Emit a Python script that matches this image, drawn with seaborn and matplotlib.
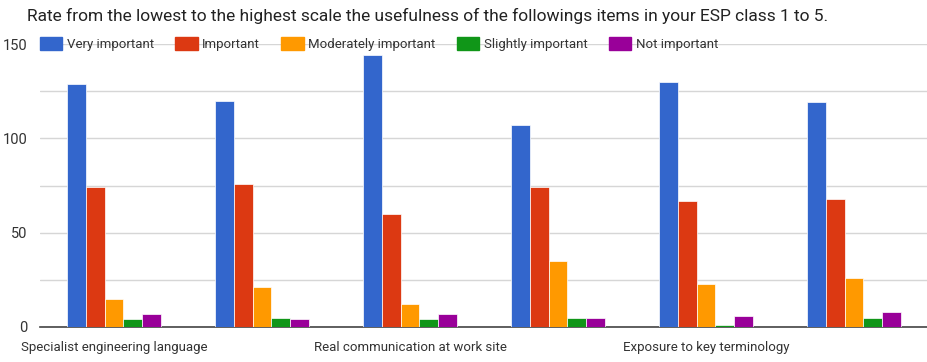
import numpy as np
import pandas as pd
import seaborn as sns
from matplotlib import pyplot as plt
from matplotlib.ticker import MultipleLocator

# data
items = ['Specialist engineering language', 'Item 2',
         'Real communication at work site', 'Item 4',
         'Exposure to key terminology', 'Item 6']
shown_labels = ['Specialist engineering language', '',
                'Real communication at work site', '',
                'Exposure to key terminology', '']
ratings = ['Very important', 'Important', 'Moderately important',
           'Slightly important', 'Not important']
very_important = [129, 120, 144, 107, 130, 119]
important = [74, 76, 60, 74, 67, 68]
moderately_important = [15, 21, 12, 35, 23, 26]
slightly_important = [4, 5, 4, 5, 1, 5]
not_important = [7, 4, 7, 5, 6, 8]
colors = ['#3366cc', '#dc3912', '#ff9900', '#109618', '#990099']
title = 'Rate from the lowest to the highest scale the usefulness of the followings items in your ESP class 1 to 5.'

series = [very_important, important, moderately_important, slightly_important, not_important]
rows = []
for rating, values in zip(ratings, series):
    for item, v in zip(items, values):
        rows.append({'item': item, 'rating': rating, 'count': v})
df = pd.DataFrame(rows)

sns.set_theme(style='white')
plt.rcParams['font.family'] = ['Roboto', 'DejaVu Sans']

fig = plt.figure(figsize=(9.28, 3.62), dpi=100)
ax = fig.add_axes([40 / 928, 1 - 327 / 362, 888 / 928, (327 - 44) / 362])

sns.barplot(data=df, x='item', y='count', hue='rating', order=items, hue_order=ratings,
            palette=colors, saturation=1, width=0.64, edgecolor='white', linewidth=0.5,
            errorbar=None, ax=ax, zorder=3)

ax.set_ylim(0, 150)
ax.set_xlim(-0.5, len(items) - 0.5)
ax.yaxis.set_major_locator(MultipleLocator(50))
ax.yaxis.set_minor_locator(MultipleLocator(25))
ax.grid(axis='y', which='both', color='#d6d6d6', linewidth=1)
ax.set_axisbelow(True)
for s in ['top', 'right', 'left']:
    ax.spines[s].set_visible(False)
ax.spines['bottom'].set_color('#444444')
ax.spines['bottom'].set_linewidth(1.2)
ax.spines['bottom'].set_zorder(2)
ax.tick_params(axis='both', length=0, colors='#333333', labelsize=9.5)
ax.tick_params(axis='y', pad=9, labelsize=10.5)
ax.tick_params(axis='x', pad=10)
ax.set_xticks(range(len(items)))
ax.set_xticklabels(shown_labels)
ax.set_xlabel('')
ax.set_ylabel('')

ax.legend_.remove()
handles = [plt.Rectangle((0, 0), 1, 1, color=c) for c in colors]
leg = fig.legend(handles, ratings, loc='center left', bbox_to_anchor=(40 / 928, 1 - 44 / 362),
                 ncol=5, frameon=False, fontsize=9.5, handlelength=1.7, handleheight=1.1,
                 handletextpad=0.35, columnspacing=1.6, borderaxespad=0, borderpad=0)
for t in leg.get_texts():
    t.set_color('#333333')

fig.text(27 / 928, 1 - 16 / 362, title, fontsize=12.5,
         color='#222222', va='center', ha='left')

fig.savefig('out.png', dpi=100)
